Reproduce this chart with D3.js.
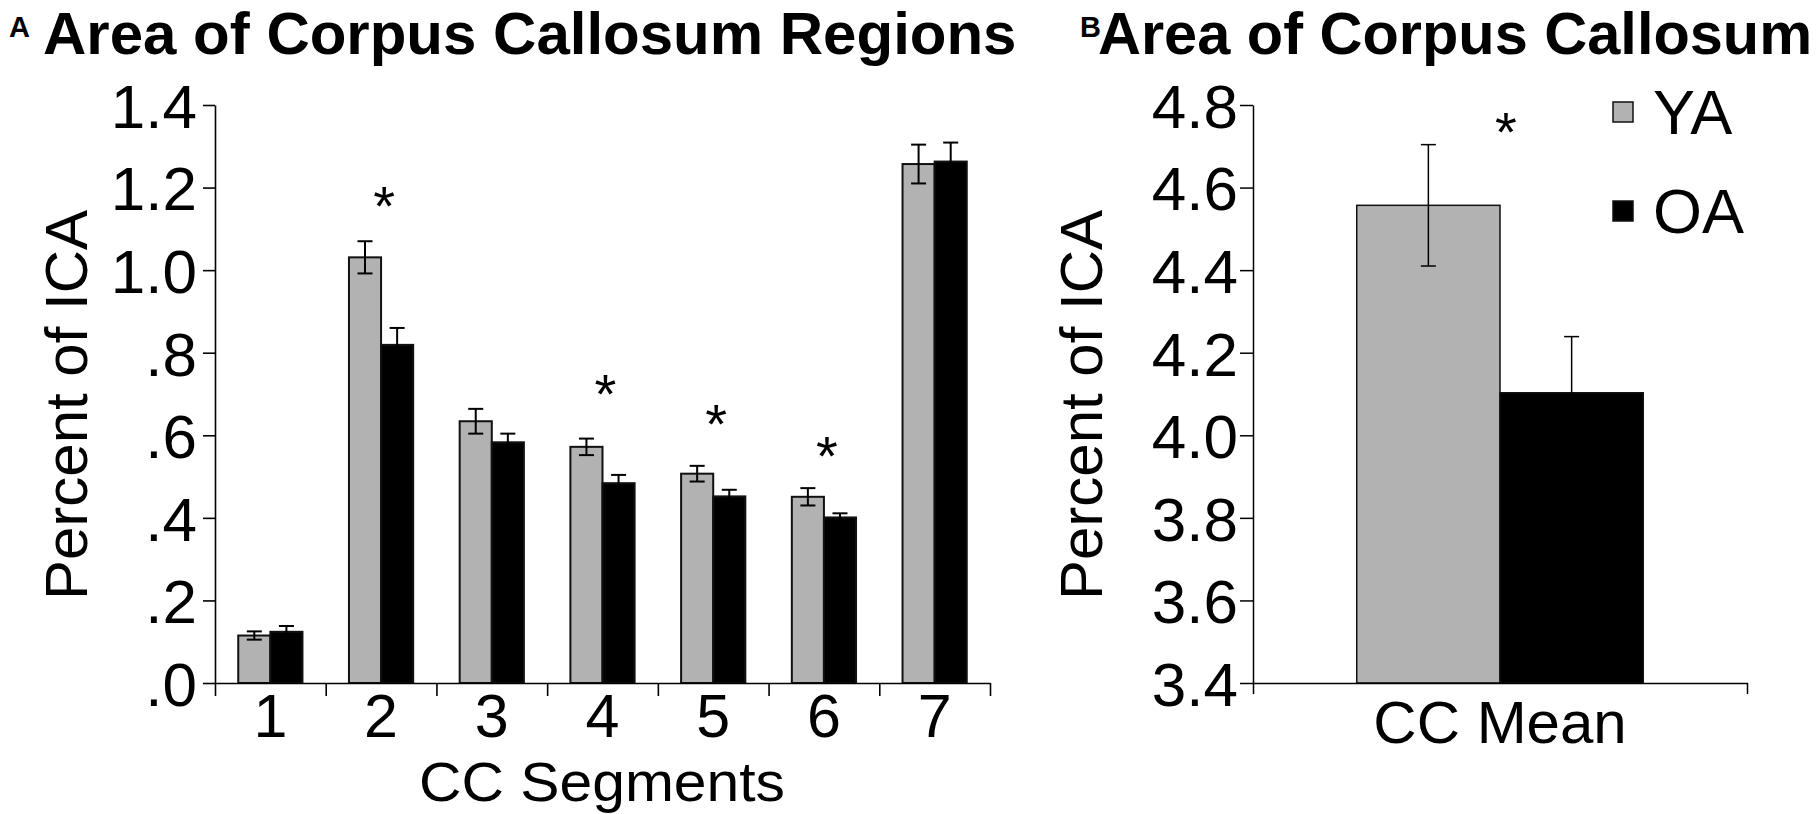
<!DOCTYPE html>
<html>
<head>
<meta charset="utf-8">
<script src="https://cdn.jsdelivr.net/npm/d3@7"></script>
<style>
  html, body { margin: 0; padding: 0; background: #fff; }
  svg { display: block; font-family: "Liberation Sans", Arial, Helvetica, sans-serif; }
</style>
</head>
<body>
<svg id="chart" width="1816" height="814"></svg>
<script>
// ---------- DATA ----------
const segments = ["1", "2", "3", "4", "5", "6", "7"];
const groups = ["YA", "OA"];
const ya = [0.115, 1.031, 0.634, 0.572, 0.507, 0.451, 1.257];
const yaErr = [0.010, 0.039, 0.030, 0.020, 0.019, 0.021, 0.047];
const oa = [0.124, 0.819, 0.583, 0.484, 0.452, 0.401, 1.263];
const oaErr = [0.014, 0.041, 0.021, 0.020, 0.016, 0.010, 0.046];
const yTicksA = [0, 0.2, 0.4, 0.6, 0.8, 1.0, 1.2, 1.4];
const yTickLabelsA = [".0", ".2", ".4", ".6", ".8", "1.0", "1.2", "1.4"];
const starSegments = ["2", "4", "5", "6"];
const starLevelsA = [1.187, 0.732, 0.659, 0.581];

const meanCats = ["CC Mean"];
const meanYA = [4.557];
const meanYAErr = [0.147];
const meanOA = [4.103];
const meanOAErr = [0.136];
const yTicksB = [3.4, 3.6, 3.8, 4.0, 4.2, 4.4, 4.6, 4.8];
const yTickLabelsB = ["3.4", "3.6", "3.8", "4.0", "4.2", "4.4", "4.6", "4.8"];
const starLevelB = [4.766];

const colors = { YA: "#b2b2b2", OA: "#000000" };

// ---------- SETUP ----------
const svg = d3.select("#chart");
const tickFont = 62;
const starFont = 56;

function styleAxis(g, w) {
  g.selectAll(".domain").attr("stroke", "#000").attr("stroke-width", w);
  g.selectAll(".tick line").attr("stroke", "#000").attr("stroke-width", w);
  g.selectAll("text").attr("fill", "#000").attr("font-size", tickFont);
}

// ---------- PANEL A ----------
const yA = d3.scaleLinear().domain([0, 1.4]).range([683, 105]);
const xA = d3.scaleBand().domain(segments).range([215, 990]).paddingInner(0.42).paddingOuter(0.21);
const xAin = d3.scaleBand().domain(groups).range([0, xA.bandwidth()]);
const xAedges = d3.scaleLinear().domain([0, segments.length]).range([215, 990]);

const dataA = segments.map((s, i) => ({
  seg: s,
  vals: [
    { g: "YA", v: ya[i], e: yaErr[i] },
    { g: "OA", v: oa[i], e: oaErr[i] }
  ]
}));

const gA = svg.append("g");

const segG = gA.selectAll("g.seg").data(dataA).join("g")
  .attr("class", "seg")
  .attr("transform", d => `translate(${xA(d.seg)},0)`);

segG.selectAll("rect").data(d => d.vals).join("rect")
  .attr("x", d => xAin(d.g))
  .attr("y", d => yA(d.v))
  .attr("width", xAin.bandwidth())
  .attr("height", d => yA(0) - yA(d.v))
  .attr("fill", d => colors[d.g])
  .attr("stroke", "#111")
  .attr("stroke-width", 2);

const errA = segG.selectAll("g.err").data(d => d.vals).join("g").attr("class", "err");
errA.append("line")
  .attr("x1", d => xAin(d.g) + xAin.bandwidth() / 2)
  .attr("x2", d => xAin(d.g) + xAin.bandwidth() / 2)
  .attr("y1", d => yA(d.v + d.e))
  .attr("y2", d => yA(d.v - d.e))
  .attr("stroke", "#000").attr("stroke-width", 2);
errA.selectAll("line.cap").data(d => [
    { x: xAin(d.g) + xAin.bandwidth() / 2, y: yA(d.v + d.e) },
    { x: xAin(d.g) + xAin.bandwidth() / 2, y: yA(d.v - d.e) }
  ]).join("line").attr("class", "cap")
  .attr("x1", d => d.x - 7.5).attr("x2", d => d.x + 7.5)
  .attr("y1", d => d.y).attr("y2", d => d.y)
  .attr("stroke", "#000").attr("stroke-width", 2);

// Y axis A
const yAxisA = gA.append("g").attr("transform", "translate(215,0)")
  .call(d3.axisLeft(yA).tickValues(yTicksA).tickFormat((d, i) => yTickLabelsA[i]).tickSize(12).tickSizeOuter(0));
styleAxis(yAxisA, 1.6);
yAxisA.selectAll("text").attr("x", -18).attr("dy", "0.36em");

// X axis A (edge ticks)
const xEdgeAxisA = gA.append("g").attr("transform", "translate(0,683)")
  .call(d3.axisBottom(xAedges).tickValues(d3.range(0, segments.length + 1)).tickFormat("").tickSize(13).tickSizeOuter(0));
styleAxis(xEdgeAxisA, 1.6);
// X labels A
const xLabAxisA = gA.append("g").attr("transform", "translate(0,683)")
  .call(d3.axisBottom(xA).tickSize(0));
xLabAxisA.select(".domain").remove();
styleAxis(xLabAxisA, 1.6);
xLabAxisA.selectAll("text").attr("y", 54).attr("dy", null).attr("font-size", 61);

// Stars A
gA.selectAll("text.star").data(starSegments.map((s, i) => ({ s, v: starLevelsA[i] }))).join("text")
  .attr("class", "star")
  .attr("x", d => xA(d.s) + xA.bandwidth() / 2 + 3)
  .attr("y", d => yA(d.v) + 0.575 * starFont)
  .attr("text-anchor", "middle")
  .attr("font-size", starFont)
  .text("*");

// Titles A
gA.append("text").attr("x", 43).attr("y", 54)
  .attr("font-size", 60).attr("font-weight", "bold").text("Area of Corpus Callosum Regions");
gA.append("text").attr("x", 9).attr("y", 37)
  .attr("font-size", 29).attr("font-weight", "bold").text("A");
gA.append("text").attr("x", 602).attr("y", 801)
  .attr("text-anchor", "middle").attr("font-size", 56)
  .attr("textLength", 366).attr("lengthAdjust", "spacingAndGlyphs")
  .text("CC Segments");
gA.append("text").attr("transform", "translate(87,405) rotate(-90)")
  .attr("text-anchor", "middle").attr("font-size", 60).text("Percent of ICA");

// ---------- PANEL B ----------
const yB = d3.scaleLinear().domain([3.4, 4.8]).range([683, 105]);
const xB = d3.scaleBand().domain(meanCats).range([1253, 1747]).paddingInner(0.42).paddingOuter(0.21);
const xBin = d3.scaleBand().domain(groups).range([0, xB.bandwidth()]);

const dataB = meanCats.map((c, i) => ({
  cat: c,
  vals: [
    { g: "YA", v: meanYA[i], e: meanYAErr[i] },
    { g: "OA", v: meanOA[i], e: meanOAErr[i] }
  ]
}));

const gB = svg.append("g");
const catG = gB.selectAll("g.cat").data(dataB).join("g")
  .attr("class", "cat")
  .attr("transform", d => `translate(${xB(d.cat)},0)`);

catG.selectAll("rect").data(d => d.vals).join("rect")
  .attr("x", d => xBin(d.g))
  .attr("y", d => yB(d.v))
  .attr("width", xBin.bandwidth())
  .attr("height", d => yB(3.4) - yB(d.v))
  .attr("fill", d => colors[d.g])
  .attr("stroke", "#111")
  .attr("stroke-width", 1.5);

const errB = catG.selectAll("g.err").data(d => d.vals).join("g").attr("class", "err");
errB.append("line")
  .attr("x1", d => xBin(d.g) + xBin.bandwidth() / 2)
  .attr("x2", d => xBin(d.g) + xBin.bandwidth() / 2)
  .attr("y1", d => yB(d.v + d.e))
  .attr("y2", d => yB(d.v - d.e))
  .attr("stroke", "#000").attr("stroke-width", 1.5);
errB.selectAll("line.cap").data(d => [
    { x: xBin(d.g) + xBin.bandwidth() / 2, y: yB(d.v + d.e) },
    { x: xBin(d.g) + xBin.bandwidth() / 2, y: yB(d.v - d.e) }
  ]).join("line").attr("class", "cap")
  .attr("x1", d => d.x - 7.5).attr("x2", d => d.x + 7.5)
  .attr("y1", d => d.y).attr("y2", d => d.y)
  .attr("stroke", "#000").attr("stroke-width", 1.5);

// Y axis B
const yAxisB = gB.append("g").attr("transform", "translate(1253,0)")
  .call(d3.axisLeft(yB).tickValues(yTicksB).tickFormat((d, i) => yTickLabelsB[i]).tickSize(13).tickSizeOuter(0));
styleAxis(yAxisB, 1.5);
yAxisB.selectAll("text").attr("x", -15).attr("dy", "0.36em");

// X axis B
const xAxisB = gB.append("g").attr("transform", "translate(0,683)")
  .call(d3.axisBottom(xB).tickSize(0).tickSizeOuter(11));
styleAxis(xAxisB, 1.5);
xAxisB.selectAll("text").attr("y", 60).attr("dy", null).attr("font-size", 60);

// Star B
gB.selectAll("text.star").data(meanCats.map((c, i) => ({ c, v: starLevelB[i] }))).join("text")
  .attr("class", "star")
  .attr("x", d => xB(d.c) + xB.bandwidth() / 2 + 6)
  .attr("y", d => yB(d.v) + 0.575 * starFont)
  .attr("text-anchor", "middle")
  .attr("font-size", starFont)
  .text("*");

// Legend
const legendRows = [112, 211];
const leg = gB.selectAll("g.leg").data(groups).join("g").attr("class", "leg")
  .attr("transform", (d, i) => `translate(1613,${legendRows[i]})`);
leg.append("rect").attr("x", 0).attr("y", -10).attr("width", 20).attr("height", 20)
  .attr("fill", d => colors[d]).attr("stroke", "#111").attr("stroke-width", 1.5);
leg.append("text").attr("x", 40).attr("y", 22).attr("font-size", 63).text(d => d);

// Titles B
gB.append("text").attr("x", 1098).attr("y", 54)
  .attr("font-size", 59.5).attr("font-weight", "bold").text("Area of Corpus Callosum");
gB.append("text").attr("x", 1080).attr("y", 37)
  .attr("font-size", 29).attr("font-weight", "bold").text("B");
gB.append("text").attr("transform", "translate(1102,405) rotate(-90)")
  .attr("text-anchor", "middle").attr("font-size", 60).text("Percent of ICA");
</script>
</body>
</html>
